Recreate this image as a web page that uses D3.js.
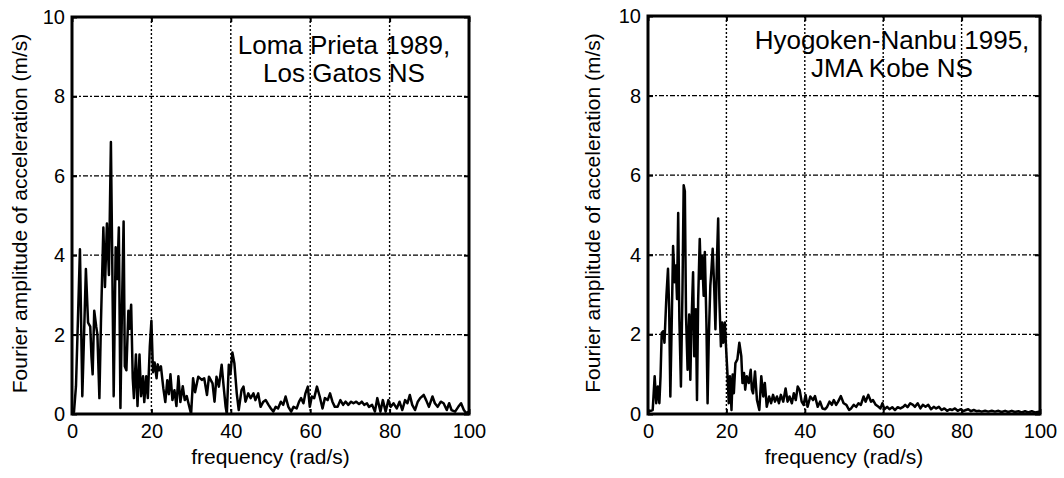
<!DOCTYPE html>
<html>
<head>
<meta charset="utf-8">
<script src="https://cdn.jsdelivr.net/npm/d3@7"></script>
<style>
  body { margin: 0; background: #fff; }
  svg { display: block; font-family: "Liberation Sans", Arial, Helvetica, sans-serif; }
</style>
</head>
<body>
<div id="chart"></div>
<script>
// Axis ticks (shared by both panels)
const xTicks = [0, 20, 40, 60, 80, 100];
const yTicks = [0, 2, 4, 6, 8, 10];
const xLabel = 'frequency (rad/s)';
const yLabel = 'Fourier amplitude of acceleration (m/s)';

// Loma Prieta 1989, Los Gatos NS
const lomaTitle = ['Loma Prieta 1989,', 'Los Gatos NS'];
const lomaFreq = [0, 0.5, 1.0, 1.5, 2.0, 2.6, 3.5, 4.05, 4.6, 4.9, 5.2, 5.6, 6.1, 6.4, 6.9, 7.3, 7.9, 8.3, 8.8, 9.3,
  9.8, 10.1, 10.5, 11.0, 11.4, 11.8, 12.2, 12.6, 13.0, 13.3, 13.7, 14.2, 14.5, 14.9, 15.3, 15.6, 16.1, 16.5, 17.0, 17.4,
  17.9, 18.2, 18.7, 19.1, 19.6, 20.0, 20.4, 20.8, 21.3, 21.6, 21.9, 22.4, 23.0, 23.5, 24.0, 24.4, 24.8, 25.3, 25.8, 26.3,
  26.8, 27.3, 27.9, 28.4, 28.9, 29.5, 30.0, 30.5, 31.0, 31.8, 32.7, 33.3, 34.0, 34.5, 35.4, 35.9, 36.4, 37.0, 37.7, 38.2,
  38.7, 39.0, 39.5, 39.9, 40.4, 40.9, 41.5, 42.0, 42.7, 43.2, 43.7, 44.4, 45.0, 45.7, 46.2, 46.9, 47.5, 48.2, 48.8, 49.5,
  50.1, 50.7, 51.3, 51.9, 52.6, 53.2, 53.8, 54.5, 55.2, 55.8, 56.6, 57.2, 57.7, 58.3, 58.8, 59.4, 59.9, 60.4, 61.0, 61.7,
  62.4, 63.1, 63.7, 64.4, 65.0, 65.6, 66.2, 66.9, 67.6, 68.3, 68.9, 69.6, 70.3, 70.9, 71.6, 72.3, 73.0, 73.6, 74.3, 74.8,
  75.6, 76.3, 76.9, 77.7, 78.3, 79.0, 79.7, 80.3, 81.0, 81.8, 82.5, 83.2, 83.9, 84.5, 85.1, 85.7, 86.4, 87.1, 87.7, 88.6,
  89.2, 89.9, 90.8, 91.4, 92.1, 92.9, 93.6, 94.4, 95.0, 95.6, 96.5, 97.3, 98.0, 98.7, 99.3, 100];
const lomaAmp = [0.02, 0.05, 0.7, 2.4, 4.15, 0.45, 3.65, 2.3, 2.2, 1.45, 1.0, 2.6, 2.2, 2.0, 0.4, 2.35, 4.7, 3.2, 4.8, 3.5,
  6.85, 4.2, 0.45, 4.2, 3.4, 4.7, 0.15, 2.75, 4.85, 1.2, 1.1, 2.6, 2.15, 2.75, 0.9, 0.4, 1.5, 0.2, 1.5, 0.45,
  0.95, 0.3, 0.95, 0.4, 1.7, 2.35, 1.05, 1.3, 0.9, 1.25, 1.1, 1.2, 0.65, 0.3, 0.85, 0.5, 1.0, 0.35, 0.6, 0.2,
  0.95, 0.3, 0.7, 0.35, 0.45, 0.2, 0.0, 0.9, 0.55, 0.94, 0.86, 0.9, 0.48, 0.94, 0.77, 0.31, 0.94, 0.69, 1.24, 0.69,
  0.18, 0.0, 1.24, 1.0, 1.55, 1.28, 0.52, 0.1, 0.6, 0.69, 0.31, 0.52, 0.4, 0.52, 0.35, 0.52, 0.18, 0.31, 0.35, 0.23,
  0.14, 0.06, 0.18, 0.14, 0.31, 0.23, 0.44, 0.18, 0.06, 0.18, 0.14, 0.31, 0.4, 0.27, 0.52, 0.69, 0.18, 0.44, 0.4, 0.69,
  0.44, 0.14, 0.4, 0.35, 0.52, 0.31, 0.18, 0.18, 0.35, 0.23, 0.31, 0.23, 0.31, 0.27, 0.31, 0.25, 0.31, 0.23, 0.27, 0.18,
  0.23, 0.06, 0.4, 0.06, 0.35, 0.06, 0.35, 0.18, 0.27, 0.14, 0.31, 0.1, 0.35, 0.27, 0.48, 0.23, 0.1, 0.31, 0.4, 0.48,
  0.35, 0.18, 0.44, 0.27, 0.18, 0.31, 0.27, 0.1, 0.27, 0.1, 0.06, 0.18, 0.27, 0.1, 0.02, 0.06];

// Hyogoken-Nanbu 1995, JMA Kobe NS
const kobeTitle = ['Hyogoken-Nanbu 1995,', 'JMA Kobe NS'];
const kobeFreq = [0, 0.7, 1.2, 1.7, 2.1, 2.5, 2.9, 3.2, 3.5, 3.9, 4.2, 4.7, 5.1, 5.4, 5.7, 6.1, 6.4, 6.8, 7.1, 7.4,
  7.7, 8.0, 8.4, 8.8, 9.1, 9.4, 9.7, 10.1, 10.5, 10.8, 11.1, 11.5, 11.8, 12.2, 12.5, 12.8, 13.2, 13.5, 13.8, 14.2,
  14.5, 14.9, 15.2, 15.5, 15.9, 16.2, 16.5, 16.9, 17.2, 17.6, 17.9, 18.2, 18.6, 18.9, 19.2, 19.6, 19.9, 20.3, 20.6, 20.9,
  21.3, 21.6, 21.9, 22.3, 22.8, 23.3, 23.8, 24.1, 24.5, 24.8, 25.2, 25.7, 26.2, 26.5, 26.8, 27.3, 27.8, 28.4, 28.9, 29.4,
  29.8, 30.3, 30.9, 31.4, 31.9, 32.4, 32.9, 33.4, 33.9, 34.5, 35.1, 35.6, 36.1, 36.7, 37.2, 37.7, 38.2, 38.7, 39.2, 39.7,
  40.2, 40.7, 41.4, 42.1, 42.6, 43.3, 43.9, 44.5, 45.2, 45.7, 46.3, 46.9, 47.4, 48.0, 48.5, 49.2, 49.9, 50.6, 51.3, 51.8,
  52.5, 53.1, 53.7, 54.3, 55.0, 55.5, 56.2, 56.9, 57.4, 58.1, 58.8, 59.3, 59.8, 60.3, 61.0, 61.6, 62.3, 63.0, 63.7, 64.4,
  65.1, 65.6, 66.2, 66.9, 67.6, 68.1, 68.8, 69.5, 70.1, 70.8, 71.5, 72.2, 72.9, 73.5, 74.2, 74.9, 75.6, 76.3, 77.0, 77.6,
  78.3, 79.0, 79.7, 80.4, 81.1, 81.7, 82.4, 83.1, 83.8, 84.5, 85.1, 86.0, 86.8, 87.7, 88.5, 89.4, 90.2, 91.1, 91.9, 92.8,
  93.6, 94.5, 95.3, 96.2, 97.0, 97.9, 98.7, 99.8];
const kobeAmp = [0.06, 0.08, 0.1, 0.95, 0.27, 0.69, 0.27, 0.95, 2.04, 2.08, 1.79, 2.97, 3.65, 2.63, 0.44, 2.55, 4.22, 3.31, 3.73, 2.89,
  5.05, 2.38, 0.69, 3.14, 5.75, 5.6, 2.46, 1.11, 2.5, 0.86, 2.3, 3.56, 1.45, 2.63, 0.35, 2.89, 4.4, 3.4, 3.98, 2.97,
  4.07, 2.3, 0.27, 1.87, 3.22, 3.65, 4.15, 3.14, 2.13, 3.9, 4.91, 2.89, 1.7, 2.3, 1.79, 2.3, 1.7, 0.95, 0.27, 0.95,
  0.1, 0.99, 0.52, 1.28, 1.37, 1.79, 1.45, 0.78, 1.03, 0.61, 0.95, 0.78, 1.11, 0.61, 0.52, 1.07, 0.35, 0.1, 0.95, 0.44,
  0.78, 0.18, 0.44, 0.27, 0.48, 0.31, 0.44, 0.27, 0.48, 0.31, 0.64, 0.31, 0.44, 0.27, 0.52, 0.35, 0.69, 0.6, 0.31, 0.23,
  0.48, 0.18, 0.44, 0.35, 0.45, 0.18, 0.31, 0.14, 0.12, 0.18, 0.31, 0.23, 0.35, 0.23, 0.31, 0.45, 0.27, 0.23, 0.1, 0.14,
  0.23, 0.18, 0.27, 0.23, 0.44, 0.31, 0.48, 0.31, 0.35, 0.23, 0.18, 0.14, 0.27, 0.12, 0.18, 0.12, 0.17, 0.1, 0.17, 0.14,
  0.18, 0.23, 0.17, 0.27, 0.23, 0.18, 0.27, 0.14, 0.23, 0.18, 0.23, 0.12, 0.18, 0.14, 0.18, 0.1, 0.14, 0.08, 0.12, 0.1,
  0.14, 0.08, 0.12, 0.07, 0.1, 0.12, 0.07, 0.1, 0.07, 0.08, 0.06, 0.08, 0.06, 0.08, 0.06, 0.08, 0.05, 0.08, 0.05, 0.08,
  0.05, 0.07, 0.04, 0.07, 0.04, 0.07, 0.04, 0.06];

const width = 1064;
const height = 478;

const svg = d3.select('#chart')
  .append('svg')
  .attr('width', width)
  .attr('height', height);

svg.append('rect')
  .attr('width', width)
  .attr('height', height)
  .attr('fill', '#fff');

/**
 * Draw one spectrum panel
 */
function drawPanel(opts) {
  const { left, top, w, h, freq, amp, title, titleX, titleY, yLabelX } = opts;

  const x = d3.scaleLinear().domain([0, 100]).range([left, left + w]);
  const y = d3.scaleLinear().domain([0, 10]).range([top + h, top]);

  const g = svg.append('g');

  // Grid: dotted verticals, dash-dot horizontals
  g.selectAll('.vgrid')
    .data(xTicks.slice(1, -1))
    .enter()
    .append('line')
    .attr('x1', d => x(d)).attr('x2', d => x(d))
    .attr('y1', top).attr('y2', top + h)
    .style('stroke', '#000')
    .style('stroke-width', 1.4)
    .style('stroke-dasharray', '2,2');

  g.selectAll('.hgrid')
    .data(yTicks.slice(1, -1))
    .enter()
    .append('line')
    .attr('x1', left).attr('x2', left + w)
    .attr('y1', d => y(d)).attr('y2', d => y(d))
    .style('stroke', '#000')
    .style('stroke-width', 1.2)
    .style('stroke-dasharray', '5,2,2,2');

  // Spectrum line
  const clipId = 'clip' + Math.round(left);
  svg.append('clipPath').attr('id', clipId)
    .append('rect').attr('x', left).attr('y', top - 2).attr('width', w).attr('height', h + 2);

  const line = d3.line()
    .x((d, i) => x(freq[i]))
    .y(d => y(d));

  g.append('path')
    .datum(amp)
    .attr('clip-path', `url(#${clipId})`)
    .attr('d', line)
    .style('fill', 'none')
    .style('stroke', '#000')
    .style('stroke-width', 2.5)
    .style('stroke-linejoin', 'round');

  // Axes with inward ticks
  const fontSize = '20px';
  g.append('g')
    .attr('transform', `translate(0,${top + h})`)
    .call(d3.axisBottom(x).tickValues(xTicks).tickSize(-5).tickPadding(10).tickFormat(d3.format('d')))
    .call(a => a.select('.domain').remove())
    .call(a => a.selectAll('line').style('stroke-width', 2))
    .call(a => a.selectAll('text').style('font-size', fontSize).style('fill', '#000').attr('font-family', null));

  g.append('g')
    .attr('transform', `translate(${left},0)`)
    .call(d3.axisLeft(y).tickValues(yTicks).tickSize(-5).tickPadding(7).tickFormat(d3.format('d')))
    .call(a => a.select('.domain').remove())
    .call(a => a.selectAll('line').style('stroke-width', 2))
    .call(a => a.selectAll('text').style('font-size', fontSize).style('fill', '#000').attr('font-family', null));

  g.append('g')
    .attr('transform', `translate(0,${top})`)
    .call(d3.axisTop(x).tickValues(xTicks).tickSize(-5).tickFormat(''))
    .call(a => a.select('.domain').remove())
    .call(a => a.selectAll('line').style('stroke-width', 2));

  g.append('g')
    .attr('transform', `translate(${left + w},0)`)
    .call(d3.axisRight(y).tickValues(yTicks).tickSize(-5).tickFormat(''))
    .call(a => a.select('.domain').remove())
    .call(a => a.selectAll('line').style('stroke-width', 2));

  // Frame
  g.append('rect')
    .attr('x', left).attr('y', top)
    .attr('width', w).attr('height', h)
    .style('fill', 'none')
    .style('stroke', '#000')
    .style('stroke-width', 3);

  // Axis labels
  g.append('text')
    .attr('x', left + w / 2)
    .attr('y', top + h + 50)
    .attr('text-anchor', 'middle')
    .style('font-size', '21px')
    .text(xLabel);

  g.append('text')
    .attr('transform', `translate(${yLabelX},${top + h / 2 - 2}) rotate(-90)`)
    .attr('text-anchor', 'middle')
    .style('font-size', '21px')
    .text(yLabel);

  // Earthquake annotation
  g.append('text')
    .attr('text-anchor', 'middle')
    .style('font-size', '26px')
    .selectAll('tspan')
    .data(title)
    .enter()
    .append('tspan')
    .attr('x', titleX)
    .attr('y', (d, i) => titleY[i])
    .text(d => d);
}

drawPanel({
  left: 72, top: 17, w: 397, h: 397,
  freq: lomaFreq, amp: lomaAmp,
  title: lomaTitle, titleX: 344, titleY: [54, 82],
  yLabelX: 27
});

drawPanel({
  left: 648, top: 16, w: 392, h: 398,
  freq: kobeFreq, amp: kobeAmp,
  title: kobeTitle, titleX: 892, titleY: [49, 77],
  yLabelX: 600
});
</script>
</body>
</html>
